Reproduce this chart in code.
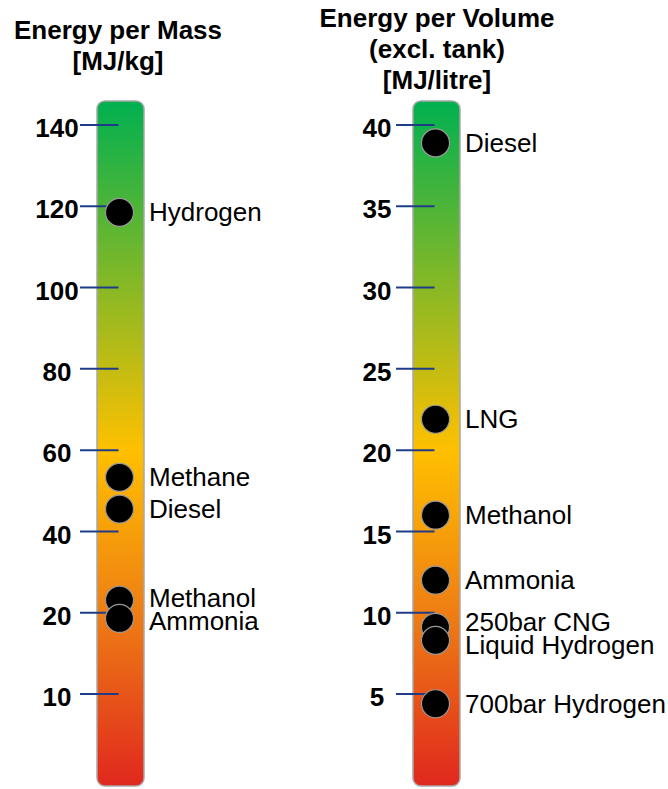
<!DOCTYPE html>
<html>
<head>
<meta charset="utf-8">
<script src="https://cdn.jsdelivr.net/npm/d3@7"></script>
<style>
  html, body { margin: 0; padding: 0; background: #fff; }
  svg { display: block; font-family: "Liberation Sans", Arial, sans-serif; }
</style>
</head>
<body>
<div id="chart"></div>
<script>
// Energy per mass [MJ/kg]
const massTitle = ["Energy per Mass", "[MJ/kg]"];
const massTicks = [140, 120, 100, 80, 60, 40, 20, 10];
const massFuels = ["Hydrogen", "Methane", "Diesel", "Methanol", "Ammonia"];
const massValues = [118.5, 53.3, 45.5, 23.1, 19.3];

// Energy per volume [MJ/litre]
const volumeTitle = ["Energy per Volume", "(excl. tank)", "[MJ/litre]"];
const volumeTicks = [40, 35, 30, 25, 20, 15, 10, 5];
const volumeFuels = [
  "Diesel",
  "LNG",
  "Methanol",
  "Ammonia",
  "250bar CNG",
  "Liquid Hydrogen",
  "700bar Hydrogen",
];
const volumeValues = [38.9, 21.9, 16.0, 12.0, 9.1, 8.3, 4.4];

const width = 668;
const height = 789;

// Vertical layout shared by both scales.
const barTop = 101;
const barBottom = 786;
const tickTop = 125;
const tickBottom = 694;
const step = (tickBottom - tickTop) / 7;

const svg = d3
  .select("#chart")
  .append("svg")
  .attr("width", width)
  .attr("height", height);

// Colour gradient of the bars: green (high) -> amber -> red (low).
const grad = svg
  .append("defs")
  .append("linearGradient")
  .attr("id", "bar-grad")
  .attr("x1", 0)
  .attr("x2", 0)
  .attr("y1", 0)
  .attr("y2", 1);
[
  [0, "#00b050"],
  [0.51, "#ffc000"],
  [0.75, "#ee7d14"],
  [1, "#e0281e"],
].forEach(([o, c]) =>
  grad.append("stop").attr("offset", o).attr("stop-color", c)
);

// The mass scale has its last tick ("10") one full step below "20".
const yMass = d3
  .scaleLinear()
  .domain([10, 20, 140])
  .range([tickBottom, tickBottom - step, tickTop]);

const yVolume = d3
  .scaleLinear()
  .domain([5, 40])
  .range([tickBottom, tickTop]);

drawScale({
  barX: 97,
  titleX: 118,
  titleY: 39,
  labelX: 57,
  title: massTitle,
  ticks: massTicks,
  fuels: massFuels,
  values: massValues,
  y: yMass,
});

drawScale({
  barX: 413,
  titleX: 437,
  titleY: 27,
  labelX: 377,
  title: volumeTitle,
  ticks: volumeTicks,
  fuels: volumeFuels,
  values: volumeValues,
  y: yVolume,
});

function drawScale({ barX, titleX, titleY, labelX, title, ticks, fuels, values, y }) {
  const barWidth = 47;
  const barCenter = barX + barWidth / 2;
  const g = svg.append("g");

  // Title lines.
  g.selectAll("text.title")
    .data(title)
    .join("text")
    .attr("class", "title")
    .attr("x", titleX)
    .attr("y", (d, i) => titleY + i * 31)
    .attr("text-anchor", "middle")
    .attr("font-size", 26)
    .attr("font-weight", "bold")
    .attr("fill", "#000")
    .text((d) => d);

  // Gradient bar.
  g.append("rect")
    .attr("x", barX)
    .attr("y", barTop)
    .attr("width", barWidth)
    .attr("height", barBottom - barTop)
    .attr("rx", 8)
    .attr("fill", "url(#bar-grad)")
    .attr("stroke", "#a8a8a8")
    .attr("stroke-width", 1.5);

  // Tick marks.
  g.selectAll("line.tick")
    .data(ticks)
    .join("line")
    .attr("class", "tick")
    .attr("x1", barX - 17)
    .attr("x2", barCenter - 2)
    .attr("y1", (d) => y(d))
    .attr("y2", (d) => y(d))
    .attr("stroke", "#1f3c88")
    .attr("stroke-width", 2);

  // Tick labels.
  g.selectAll("text.tick-label")
    .data(ticks)
    .join("text")
    .attr("class", "tick-label")
    .attr("x", labelX)
    .attr("y", (d) => y(d) + 3)
    .attr("dy", "0.35em")
    .attr("text-anchor", "middle")
    .attr("font-size", 26)
    .attr("font-weight", "bold")
    .attr("fill", "#000")
    .text((d) => d);

  // Fuel points.
  const points = fuels.map((name, i) => ({ name, value: values[i], cy: y(values[i]) }));

  g.selectAll("circle.fuel")
    .data(points)
    .join("circle")
    .attr("class", "fuel")
    .attr("cx", barCenter - 1)
    .attr("cy", (d) => d.cy)
    .attr("r", 14)
    .attr("fill", "#000")
    .attr("stroke", "#9a9a9a")
    .attr("stroke-width", 1.2);

  // Label baselines, pushed apart where two points nearly overlap.
  const minGap = 23;
  points.forEach((d) => (d.ly = d.cy + 9));
  const sorted = points.slice().sort((a, b) => a.ly - b.ly);
  for (let i = 1; i < sorted.length; i++) {
    const gap = sorted[i].ly - sorted[i - 1].ly;
    if (gap < minGap) {
      const shift = (minGap - gap) / 2;
      sorted[i - 1].ly -= shift;
      sorted[i].ly += shift;
    }
  }

  g.selectAll("text.fuel-label")
    .data(points)
    .join("text")
    .attr("class", "fuel-label")
    .attr("x", barX + barWidth + 5)
    .attr("y", (d) => d.ly)
    .attr("font-size", 26)
    .attr("fill", "#000")
    .text((d) => d.name);
}
</script>
</body>
</html>
